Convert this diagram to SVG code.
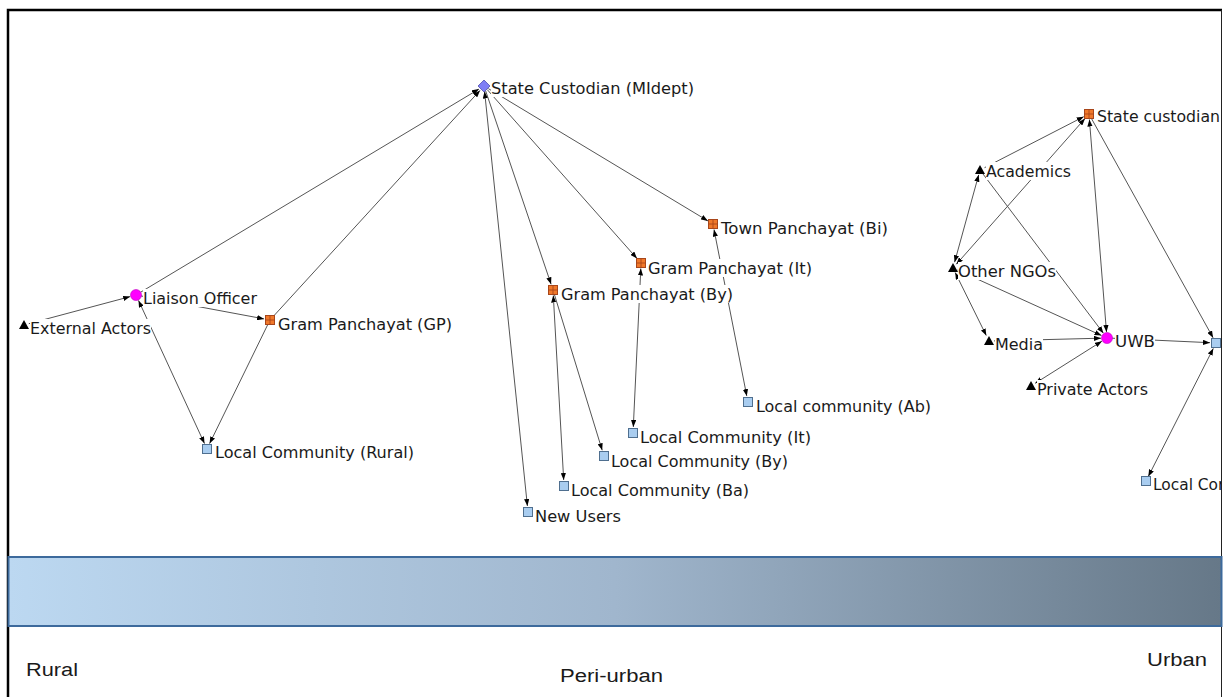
<svg xmlns="http://www.w3.org/2000/svg" width="1226" height="697" viewBox="0 0 1226 697">
  <defs>
    <marker id="arrow" viewBox="0 0 8 6" refX="8" refY="3" markerWidth="7" markerHeight="5.5" markerUnits="userSpaceOnUse" orient="auto-start-reverse">
      <path d="M0,0 L8,3 L0,6 z" fill="#000"/>
    </marker>
    <linearGradient id="band" x1="0" y1="0" x2="1" y2="0">
      <stop offset="0" stop-color="#bcd8f1"/>
      <stop offset="0.5" stop-color="#a0b6cd"/>
      <stop offset="1" stop-color="#667888"/>
    </linearGradient>
    <clipPath id="frameClip">
      <rect x="0" y="0" width="1221" height="697"/>
    </clipPath>
    <!-- node glyphs -->
    <g id="grid">
      <rect x="-4.5" y="-4.5" width="9" height="9" fill="#f0782a" stroke="#a8461a" stroke-width="1"/>
      <path d="M-4.5,0 H4.5 M0,-4.5 V4.5" stroke="#a8461a" stroke-width="0.9"/>
    </g>
    <rect id="sq" x="-4.5" y="-4.5" width="9" height="9" fill="#a9cdf0" stroke="#4f6f8f" stroke-width="1"/>
    <path id="tri" d="M0,-5 L5,4 L-5,4 z" fill="#000"/>
    <circle id="dot" r="5.5" fill="#ff00ff" stroke="#c000c0" stroke-width="0.6"/>
  </defs>
  <style>
    .edge { stroke: #555; stroke-width: 1; fill: none; }
    .uni { marker-end: url(#arrow); }
    .bi { marker-start: url(#arrow); marker-end: url(#arrow); }
    .lbl { font-family: "DejaVu Sans", "Liberation Sans", sans-serif; font-size: 16px; fill: #1a1a1a; }
    .bg { fill: #fff; }
    .scale { font-family: "Liberation Sans", "Open Sans", sans-serif; font-size: 18px; fill: #1a1a1a; }
  </style>

  <rect width="1226" height="697" fill="#fff"/>

  <!-- frame -->
  <path d="M8,697 V10 H1222" stroke="#000" stroke-width="2.5" fill="none"/>
  <path d="M1221.5,10 V697" stroke="#222" stroke-width="1" fill="none"/>

  <!-- connectors -->
  <g id="edges" clip-path="url(#frameClip)">
    <line class="edge uni" x1="28.8" y1="323.7" x2="130.2" y2="296.6"/>
    <line class="edge uni" x1="140.3" y1="292.4" x2="478.9" y2="89.1"/>
    <line class="edge uni" x1="273.4" y1="316.3" x2="480" y2="90.4"/>
    <line class="edge uni" x1="140.9" y1="295.9" x2="264.1" y2="318.9"/>
    <line class="edge bi" x1="138.5" y1="300.4" x2="204.5" y2="443.6"/>
    <line class="edge uni" x1="267.8" y1="324.5" x2="209.6" y2="443.6"/>
    <line class="edge uni" x1="485.6" y1="90.7" x2="551.1" y2="284.3"/>
    <line class="edge uni" x1="487.3" y1="89.7" x2="637" y2="258.5"/>
    <line class="edge uni" x1="488.3" y1="88.6" x2="707.9" y2="220.9"/>
    <line class="edge bi" x1="484.6" y1="91.5" x2="527.4" y2="506"/>
    <line class="edge bi" x1="553.3" y1="295.5" x2="563.7" y2="480"/>
    <line class="edge uni" x1="554.5" y1="294.8" x2="602.2" y2="450.3"/>
    <line class="edge bi" x1="640.8" y1="268.5" x2="633.3" y2="427"/>
    <line class="edge bi" x1="714" y1="229.5" x2="746.8" y2="396.1"/>
    <line class="edge uni" x1="984.5" y1="167.7" x2="1083.7" y2="116.7"/>
    <line class="edge bi" x1="956.3" y1="264.3" x2="1085" y2="118.5"/>
    <line class="edge bi" x1="978.7" y1="174.8" x2="954.6" y2="262.2"/>
    <line class="edge uni" x1="983" y1="174" x2="1103.4" y2="333.2"/>
    <line class="edge bi" x1="1089.4" y1="119.5" x2="1106.5" y2="332"/>
    <line class="edge uni" x1="1091.4" y1="118.4" x2="1213.1" y2="337.8"/>
    <line class="edge uni" x1="957.5" y1="270.1" x2="1101.5" y2="335.5"/>
    <line class="edge bi" x1="955.2" y1="272.5" x2="986.3" y2="335.6"/>
    <line class="edge uni" x1="994" y1="340.9" x2="1101" y2="338.2"/>
    <line class="edge bi" x1="1035.2" y1="383.3" x2="1101.9" y2="341.2"/>
    <line class="edge uni" x1="1112" y1="338.2" x2="1210" y2="342.7"/>
    <line class="edge bi" x1="1148.3" y1="476.5" x2="1213.3" y2="348.4"/>
  </g>

  <!-- nodes -->
  <g id="node-state-custodian-midept">
    <rect class="bg" x="491" y="79" width="203" height="18"/>
    <path d="M484,80 L490,86 L484,92 L478,86 z" fill="#7f7ff5" stroke="#5050b0" stroke-width="0.8"/>
    <text class="lbl" x="491" y="94" textLength="203" lengthAdjust="spacingAndGlyphs">State Custodian (MIdept)</text>
  </g>
  <g id="node-liaison-officer">
    <rect class="bg" x="143" y="289" width="114" height="18"/>
    <use href="#dot" x="136" y="295"/>
    <text class="lbl" x="143" y="304" textLength="114" lengthAdjust="spacingAndGlyphs">Liaison Officer</text>
  </g>
  <g id="node-external-actors">
    <rect class="bg" x="30" y="319" width="121" height="18"/>
    <use href="#tri" x="24" y="325"/>
    <text class="lbl" x="30" y="334" textLength="121" lengthAdjust="spacingAndGlyphs">External Actors</text>
  </g>
  <g id="node-gram-panchayat-gp">
    <rect class="bg" x="278" y="315" width="174" height="18"/>
    <use href="#grid" x="270" y="320"/>
    <text class="lbl" x="278" y="330" textLength="174" lengthAdjust="spacingAndGlyphs">Gram Panchayat (GP)</text>
  </g>
  <g id="node-local-community-rural">
    <rect class="bg" x="215" y="443" width="199" height="18"/>
    <use href="#sq" x="207" y="449"/>
    <text class="lbl" x="215" y="458" textLength="199" lengthAdjust="spacingAndGlyphs">Local Community (Rural)</text>
  </g>
  <g id="node-gram-panchayat-by">
    <rect class="bg" x="561" y="285" width="172" height="18"/>
    <use href="#grid" x="553" y="290"/>
    <text class="lbl" x="561" y="300" textLength="172" lengthAdjust="spacingAndGlyphs">Gram Panchayat (By)</text>
  </g>
  <g id="node-gram-panchayat-it">
    <rect class="bg" x="648" y="259" width="164" height="18"/>
    <use href="#grid" x="641" y="263"/>
    <text class="lbl" x="648" y="274" textLength="164" lengthAdjust="spacingAndGlyphs">Gram Panchayat (It)</text>
  </g>
  <g id="node-town-panchayat-bi">
    <rect class="bg" x="721" y="219" width="167" height="18"/>
    <use href="#grid" x="713" y="224"/>
    <text class="lbl" x="721" y="234" textLength="167" lengthAdjust="spacingAndGlyphs">Town Panchayat (Bi)</text>
  </g>
  <g id="node-local-community-ab">
    <rect class="bg" x="756" y="397" width="175" height="18"/>
    <use href="#sq" x="748" y="402"/>
    <text class="lbl" x="756" y="412" textLength="175" lengthAdjust="spacingAndGlyphs">Local community (Ab)</text>
  </g>
  <g id="node-local-community-it">
    <rect class="bg" x="640" y="428" width="171" height="18"/>
    <use href="#sq" x="633" y="433"/>
    <text class="lbl" x="640" y="443" textLength="171" lengthAdjust="spacingAndGlyphs">Local Community (It)</text>
  </g>
  <g id="node-local-community-by">
    <rect class="bg" x="611" y="452" width="177" height="18"/>
    <use href="#sq" x="604" y="456"/>
    <text class="lbl" x="611" y="467" textLength="177" lengthAdjust="spacingAndGlyphs">Local Community (By)</text>
  </g>
  <g id="node-local-community-ba">
    <rect class="bg" x="571" y="481" width="178" height="18"/>
    <use href="#sq" x="564" y="486"/>
    <text class="lbl" x="571" y="496" textLength="178" lengthAdjust="spacingAndGlyphs">Local Community (Ba)</text>
  </g>
  <g id="node-new-users">
    <rect class="bg" x="535" y="507" width="86" height="18"/>
    <use href="#sq" x="528" y="512"/>
    <text class="lbl" x="535" y="522" textLength="86" lengthAdjust="spacingAndGlyphs">New Users</text>
  </g>
  <g id="node-state-custodian-urban" clip-path="url(#frameClip)">
    <rect class="bg" x="1097" y="107" width="124" height="18"/>
    <use href="#grid" x="1089" y="114"/>
    <text class="lbl" x="1097" y="122" textLength="123" lengthAdjust="spacingAndGlyphs">State custodian</text>
  </g>
  <g id="node-academics">
    <rect class="bg" x="986" y="162" width="85" height="18"/>
    <use href="#tri" x="980" y="170"/>
    <text class="lbl" x="986" y="177" textLength="85" lengthAdjust="spacingAndGlyphs">Academics</text>
  </g>
  <g id="node-other-ngos">
    <rect class="bg" x="958" y="262" width="98" height="18"/>
    <use href="#tri" x="953" y="268"/>
    <text class="lbl" x="958" y="277" textLength="98" lengthAdjust="spacingAndGlyphs">Other NGOs</text>
  </g>
  <g id="node-media">
    <rect class="bg" x="995" y="335" width="48" height="18"/>
    <use href="#tri" x="989" y="341"/>
    <text class="lbl" x="995" y="350" textLength="48" lengthAdjust="spacingAndGlyphs">Media</text>
  </g>
  <g id="node-uwb">
    <rect class="bg" x="1115" y="332" width="40" height="18"/>
    <use href="#dot" x="1107" y="338"/>
    <text class="lbl" x="1115" y="347" textLength="40" lengthAdjust="spacingAndGlyphs">UWB</text>
  </g>
  <g id="node-private-actors">
    <rect class="bg" x="1037" y="380" width="111" height="18"/>
    <use href="#tri" x="1031" y="386"/>
    <text class="lbl" x="1037" y="395" textLength="111" lengthAdjust="spacingAndGlyphs">Private Actors</text>
  </g>
  <g id="node-urban-hub">
    <use href="#sq" x="1216" y="343"/>
  </g>
  <g id="node-local-community-urban" clip-path="url(#frameClip)">
    <rect class="bg" x="1153" y="475" width="68" height="18"/>
    <use href="#sq" x="1146" y="481"/>
    <text class="lbl" x="1153" y="490" textLength="134" lengthAdjust="spacingAndGlyphs">Local Community</text>
  </g>

  <!-- rural to urban band -->
  <g id="gradient-band">
    <rect x="8.5" y="557" width="1213" height="69" fill="url(#band)" stroke="#3d6a9c" stroke-width="2"/>
    <text class="scale" x="26" y="676" textLength="52" lengthAdjust="spacingAndGlyphs">Rural</text>
    <text class="scale" x="560" y="682" textLength="103" lengthAdjust="spacingAndGlyphs">Peri-urban</text>
    <text class="scale" x="1147" y="666" textLength="60" lengthAdjust="spacingAndGlyphs">Urban</text>
  </g>
</svg>
